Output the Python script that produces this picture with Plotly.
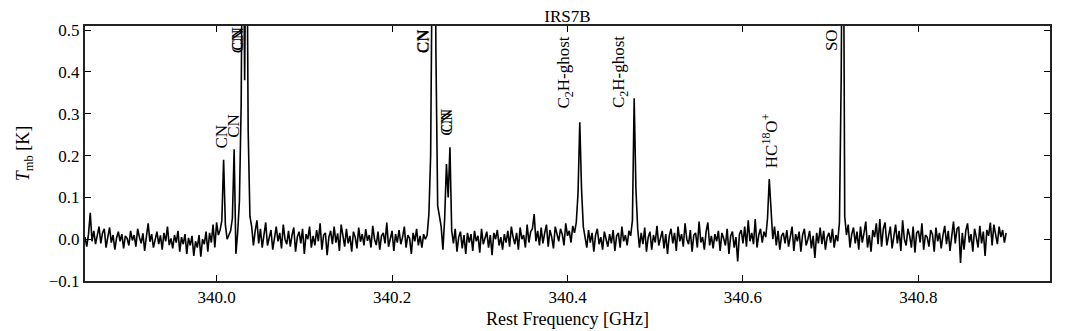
import numpy as np
import plotly.graph_objects as go

# channel grid of the spectrum (GHz)
freq_start = 339.850
chan_width = 0.002

# main-beam temperature per channel, in mK (20 channels per row)
tmb_mk = [
    5, -18, 12, 63, -5, 20, -12, 8, 30, -10, 15, 25, -20, 5, 28, -8, 10, -25, 3, 18,
    -5, 12, -22, 8, 2, -15, 20, -3, 10, -18, 25, 5, -10, 14, -28, 6, 38, -6, 12, -20,
    4, 18, -12, 9, -25, 15, -5, 30, -14, 2, -22, 10, -8, 20, -30, 5, -12, 12, -35, 3,
    -15, 8, -40, -5, -20, 10, -42, 0, -12, 18, -30, 15, -8, 35, -20, 40, 10, 22, 45, 190,
    35, 0, 10, 20, 50, 215, -35, 15, 90, 320, 950, 380, 950, 260, 55, 30, -15, 20, 45, -10,
    25, -20, 10, 40, -15, 5, 22, -25, 8, 30, -5, 15, -22, 35, 0, -12, 20, -18, 10, 28,
    -30, 5, 18, -10, 25, -35, 12, 0, 30, -20, 8, -15, 22, -5, 38, -25, 10, 15, -38, 5,
    20, -12, 30, -8, 14, -28, 35, 2, -18, 25, -10, 8, -30, 18, 5, -22, 28, -6, 12, -15,
    24, -4, 10, -20, 32, 0, -14, 18, -25, 8, 15, -10, 40, -18, 6, 20, -28, 12, -8, 22,
    -12, 5, 30, -20, 10, 2, -35, 15, -5, 25, -15, 8, -20, 12, 0, 10, 60, 200, 750, 1200,
    450, 80, 55, 30, -25, 50, 180, 100, 220, 20, -10, 25, -30, 5, 18, -22, 10, -35, 15, -8,
    12, -28, 20, -5, 8, -32, 25, -12, 3, 18, -20, 10, -38, 15, 0, 22, -15, 5, -25, 12,
    -8, 20, -18, 30, 5, -12, 15, -25, 28, 0, 10, -20, 35, -8, 18, 25, 60, -5, 20, -15,
    28, -10, 15, 35, -18, 22, 5, -22, 30, 10, -5, 25, 12, -15, 38, 8, 20, -8, 32, 15,
    40, 110, 280, 120, 30, 5, -20, 22, -8, 15, -30, 10, 25, -12, 5, -25, 18, 0, -18, 12,
    -10, 22, -28, 8, 15, -20, 30, -5, 10, -15, 20, 8, 45, 337, 120, 25, -20, 15, -12, 28,
    -30, 5, 18, -25, 10, -8, 32, -15, 0, 20, -22, 12, -35, 8, 25, -10, 15, -28, 30, -5,
    12, -18, 38, 0, -12, 22, -30, 10, 15, -20, 42, -8, 5, -25, 18, 40, -15, 8, -22, 12,
    -5, 20, -28, 15, 2, -15, 25, -35, 8, 18, -20, 5, -53, 12, 22, -10, 30, -18, 45, -5,
    15, -12, 48, -20, 10, 25, -8, 18, 5, 50, 144, 60, 0, 30, -15, 20, -25, 8, 15, -10,
    22, -18, 5, 30, -28, 12, -5, 18, -30, 10, 25, -15, 0, 20, -22, 8, -45, 15, -10, 28,
    -12, 20, -25, 5, 15, -8, 25, -20, 10, -5, 40, 390, 1100, 55, 10, 35, -20, 12, 28, -10,
    18, -25, 30, -8, 15, 42, -20, 10, -30, 22, 5, 38, -12, 48, -18, 25, 40, -15, 8, 30,
    -22, 12, 35, -10, 20, -28, 45, 0, -15, 25, 8, -20, 30, -32, 15, 20, -8, 38, -25, 10,
    5, -18, 22, 12, -30, 28, -5, 15, -22, 10, 32, -12, 20, -28, 8, 42, -10, 25, 30, -57,
    15, -25, 20, 38, -8, 12, -30, 25, 5, -20, 32, -10, 18, -40, 22, 8, 40, -15, 35, 10,
    -12, 30, 5, 22, -8, 15,
]

# line identifications: label, frequency of label (GHz), height of label foot (K)
line_labels = ["CN", "CN", "CN", "CN", "CN", "CN", "CN", "CN",
               "C<sub>2</sub>H-ghost", "C<sub>2</sub>H-ghost",
               "HC<sup>18</sup>O<sup>+</sup>", "SO"]
line_label_freqs = [340.0057, 340.0194, 340.0232, 340.0236, 340.2353, 340.2354,
                    340.2620, 340.2623, 340.3977, 340.4598, 340.6302, 340.7003]
line_label_heights = [0.211, 0.237, 0.440, 0.447, 0.440, 0.441,
                      0.244, 0.250, 0.309, 0.309, 0.165, 0.445]

freq = freq_start + chan_width * np.arange(len(tmb_mk))
tmb = np.array(tmb_mk) / 1000.0

font_family = "Liberation Serif, DejaVu Serif, serif"

fig = go.Figure()

fig.add_trace(go.Scatter(
    x=freq,
    y=tmb,
    mode='lines',
    line=dict(color='black', width=1.6),
    showlegend=False,
))

for label, f, h in zip(line_labels, line_label_freqs, line_label_heights):
    fig.add_annotation(
        x=f, y=h, xref='x', yref='y',
        text=label, textangle=-90,
        showarrow=False,
        xanchor='center', yanchor='bottom',
        font=dict(family=font_family, size=17, color='black'),
    )

axis_style = dict(
    showline=True, linecolor='#222222', linewidth=2, mirror='ticks',
    ticks='inside', ticklen=6, tickwidth=1, tickcolor='black',
    showgrid=False, zeroline=False, automargin=False,
    tickfont=dict(family=font_family, size=17, color='black'),
)

# the page puts the plot 8px in from the top-left corner
fig.update_layout(
    width=1072, height=331,
    margin=dict(l=77, r=30, t=18, b=58),
    paper_bgcolor='white', plot_bgcolor='white',
    title=dict(text='IRS7B', x=0.5, xref='paper', xanchor='center',
               yref='container', y=1 - 2 / 331, yanchor='top',
               font=dict(family=font_family, size=17, color='black')),
    xaxis=dict(
        range=[339.85, 340.95], tick0=340.0, dtick=0.2, tickformat='.1f',
        title=dict(text='Rest Frequency [GHz]', standoff=6,
                   font=dict(family=font_family, size=18, color='black')),
        **axis_style,
    ),
    yaxis=dict(
        range=[-0.1, 0.51], tick0=0.0, dtick=0.1, tickformat='.1f',
        title=dict(text='<i>T</i><sub>mb</sub> [K]', standoff=14,
                   font=dict(family=font_family, size=18, color='black')),
        **axis_style,
    ),
)

fig.write_html("out.html")
